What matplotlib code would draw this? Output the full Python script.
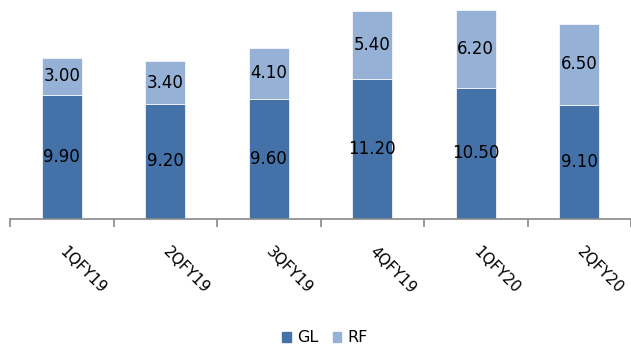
import matplotlib
matplotlib.use("Agg")
import matplotlib.pyplot as plt
import numpy as np
from matplotlib.patches import Patch

categories = ["1QFY19", "2QFY19", "3QFY19", "4QFY19", "1QFY20", "2QFY20"]
gl = [9.90, 9.20, 9.60, 11.20, 10.50, 9.10]
rf = [3.00, 3.40, 4.10, 5.40, 6.20, 6.50]

c_gl = "#4472A8"
c_rf = "#95B1D6"

fig = plt.figure(figsize=(6.31, 3.49), dpi=100)
ax = fig.add_axes([10/631, 130/349, 621/631, 219/349])
x = np.arange(len(categories))
w = 0.39
ax.bar(x, gl, w, color=c_gl, edgecolor="white", linewidth=0.5)
ax.bar(x, rf, w, bottom=gl, color=c_rf, edgecolor="white", linewidth=0.5)
for xi, g, r in zip(x, gl, rf):
    ax.text(xi, g/2, f"{g:.2f}", ha="center", va="center", fontsize=12, color="black")
    ax.text(xi, g + r/2, f"{r:.2f}", ha="center", va="center", fontsize=12, color="black")

ax.set_xlim(-0.5, len(categories) - 0.5)
ax.set_ylim(0, 17.5)
for s in ["top", "right", "left"]:
    ax.spines[s].set_visible(False)
ax.spines["bottom"].set_color("#898989")
ax.spines["bottom"].set_linewidth(1.2)
ax.set_yticks([])
ax.set_xticks(np.arange(-0.5, len(categories)), minor=False)
ax.set_xticklabels([])
ax.tick_params(axis="x", length=6, width=1.2, color="#898989", direction="out")
for xi, c in zip(x, categories):
    ax.annotate(c, xy=(xi, 0), xycoords=("data", "axes fraction"),
                xytext=(0, -22), textcoords="offset points",
                rotation=-45, rotation_mode="anchor", ha="left", va="center",
                fontsize=11)

handles = [Patch(color=c_gl, label="GL"), Patch(color=c_rf, label="RF")]
fig.legend(handles=handles, loc="center", bbox_to_anchor=(325/631, 1 - 338/349),
           ncol=2, frameon=False, fontsize=11.5, handlelength=0.55, handleheight=0.55,
           handletextpad=0.4, columnspacing=0.9)
fig.savefig("out.png", dpi=100)
